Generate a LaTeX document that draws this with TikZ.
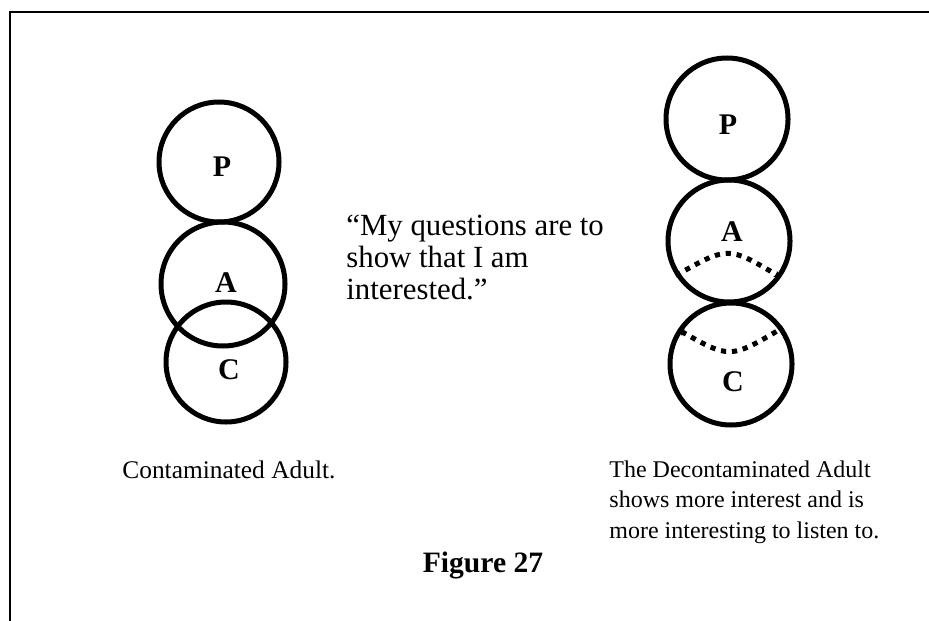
\documentclass[tikz,border=0pt]{standalone}
\usepackage{fontspec}
\setmainfont{Liberation Serif}
\usetikzlibrary{arrows.meta}

\begin{document}
\begin{tikzpicture}[x=0.5pt, y=0.5pt,
  ego/.style={draw, circle, line width=2.5pt, minimum size=61pt, inner sep=0pt},
  letter/.style={font=\fontsize{15}{18}\selectfont\bfseries, inner sep=0pt},
  caption/.style={font=\fontsize{12}{15.25}\selectfont, align=left, inner sep=0pt},
  shiftline/.style={line width=2.5pt, dash pattern=on 2.6pt off 2.9pt,
                    >={Stealth[length=3.5pt, width=3.5pt]}}]
  \useasboundingbox (0,0) rectangle (929,-620);
  \draw[line width=1pt] (10,-640) -- (10,-12) -- (950,-12);
  % contaminated adult
  \node[ego, minimum size=60pt] (lP) at (219,-162) {};
  \node[ego, minimum size=62pt] (lA) at (223,-284) {};
  \node[ego, minimum size=60pt] (lC) at (226,-362) {};
  \node[letter] (lPt) at ([shift={(3,-5)}]lP) {P};
  \node[letter] (lAt) at ([shift={(3,1)}]lA) {A};
  \node[letter] (lCt) at ([shift={(3,-8)}]lC) {C};
  % decontaminated adult
  \node[ego] (rP) at (727,-119) {};
  \node[ego] (rA) at (729,-241) {};
  \node[ego] (rC) at (731,-364) {};
  \node[letter] (rPt) at ([shift={(1,-6)}]rP) {P};
  \node[letter] (rAt) at ([shift={(3,9)}]rA) {A};
  \node[letter] (rCt) at ([shift={(2,-18)}]rC) {C};
  \draw[shiftline, ->] (rA.213) .. controls (728,-246) .. (rA.-35);
  \draw[shiftline, <-] (rC.147) .. controls (730,-359) .. (rC.35);
  % texts
  \node[caption, font=\fontsize{15.4}{16}\selectfont, anchor=north west]
       (quote) at (346,-215) {``My questions are to\\show that I am\\interested.''};
  \node[caption, font=\fontsize{12.7}{15}\selectfont, anchor=base west]
       (capL) at (122,-478) {Contaminated Adult.};
  \node[caption, anchor=north west] (capR) at (609,-460)
       {The Decontaminated Adult\\shows more interest and is\\more interesting to listen to.};
  \node[font=\fontsize{14.8}{18}\selectfont\bfseries, anchor=base, inner sep=0pt]
       (fig) at (483,-572) {Figure 27};
\end{tikzpicture}
\end{document}
